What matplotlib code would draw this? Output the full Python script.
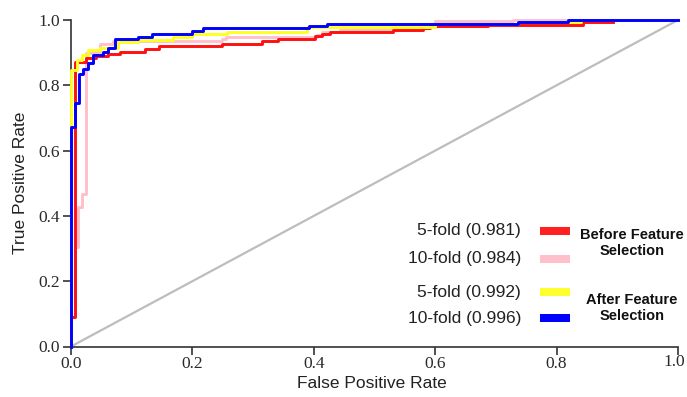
import matplotlib
matplotlib.use("Agg")
import matplotlib.pyplot as plt
from matplotlib.patches import Rectangle

# ROC step vertices (fpr, tpr) — each point is the top of a vertical rise
red_fpr = [0, 0, 0.0066, 0.025, 0.041, 0.061, 0.081, 0.122, 0.145, 0.248, 0.314,
           0.341, 0.402, 0.413, 0.427, 0.530, 0.580, 0.591, 0.687, 0.844, 0.893]
red_tpr = [0, 0.091, 0.872, 0.885, 0.891, 0.897, 0.903, 0.911, 0.919, 0.927, 0.935,
           0.943, 0.951, 0.957, 0.962, 0.968, 0.976, 0.981, 0.986, 0.993, 0.993]

pink_fpr = [0, 0, 0.0066, 0.012, 0.0176, 0.0247, 0.048, 0.070, 0.248, 0.256,
            0.405, 0.413, 0.443, 0.528, 0.600, 0.728, 1.0]
pink_tpr = [0, 0.091, 0.306, 0.428, 0.467, 0.899, 0.928, 0.937, 0.941, 0.948,
            0.955, 0.963, 0.968, 0.979, 0.997, 1.0, 1.0]

yellow_fpr = [0, 0, 0.0094, 0.018, 0.028, 0.047, 0.078, 0.110, 0.168, 0.200,
              0.257, 0.389, 0.600, 0.736, 0.840, 1.0]
yellow_tpr = [0, 0.847, 0.877, 0.893, 0.908, 0.915, 0.934, 0.939, 0.947, 0.956,
              0.962, 0.979, 0.989, 0.993, 1.0, 1.0]

blue_fpr = [0, 0, 0.0066, 0.0132, 0.0193, 0.0285, 0.0367, 0.0532, 0.0615, 0.0725,
            0.110, 0.133, 0.199, 0.2175, 0.392, 0.421, 0.736, 0.819, 1.0]
blue_tpr = [0, 0.673, 0.747, 0.835, 0.849, 0.869, 0.893, 0.901, 0.913, 0.941,
            0.949, 0.958, 0.966, 0.976, 0.982, 0.989, 0.995, 1.0, 1.0]

series_labels = ["5-fold (0.981)", "10-fold (0.984)", "5-fold (0.992)", "10-fold (0.996)"]
series_colors = ["#FF2020", "#FFC0CB", "#FFFF30", "#0000FF"]
line_colors = ["#FF1010", "#FFC0CB", "#FFFF20", "#0000FF"]
draw_order = [2, 1, 3, 4]
group_labels = ["Before Feature\nSelection", "After Feature\nSelection"]
ticks = [0.0, 0.2, 0.4, 0.6, 0.8, 1.0]

W, H = 687, 397
fig = plt.figure(figsize=(W / 100, H / 100), dpi=100)
ax = fig.add_axes([71 / W, 1 - 346.5 / H, 607 / W, 326.5 / H])

ax.plot([0, 1], [0, 1], color="#BDBDBD", lw=1.6, zorder=1, clip_on=False)
for fx, ty, c, z in zip([red_fpr, pink_fpr, yellow_fpr, blue_fpr],
                        [red_tpr, pink_tpr, yellow_tpr, blue_tpr], line_colors, draw_order):
    ax.plot(fx, ty, drawstyle="steps-post", color=c, lw=2.1, zorder=2 + z, clip_on=False)

ax.set_xlim(0, 1)
ax.set_ylim(0, 1)
ax.set_xticks(ticks)
ax.set_yticks(ticks)
xlabels = [f"{t:.1f}" for t in ticks]
ax.set_xticklabels(xlabels[:-1] + [""])
ax.set_yticklabels([f"{t:.1f}" for t in ticks])
for s in ["top", "right"]:
    ax.spines[s].set_visible(False)
for s in ["left", "bottom"]:
    ax.spines[s].set_color("#333333")
    ax.spines[s].set_linewidth(1.2)
ax.tick_params(direction="out", length=6, width=1.2, color="#333333",
               labelcolor="#2a2a2a", pad=2, labelsize=12.5)
ax.tick_params(axis="x", pad=1)
for lab in ax.get_xticklabels() + ax.get_yticklabels():
    lab.set_family("Liberation Serif")
# last x tick label, nudged slightly left so it stays inside the canvas
ax.annotate(xlabels[-1], xy=(ticks[-1], 0), xycoords=("data", "axes fraction"),
            xytext=(-2.5, -5.3), textcoords="offset points", ha="center", va="top",
            fontsize=12.5, family="Liberation Serif", color="#2a2a2a",
            annotation_clip=False)

fig.text(372 / W, 1 - 383 / H, "False Positive Rate", ha="center", va="center",
         fontsize=12.5, family="Liberation Sans", color="#222222")
fig.text(21 / W, 1 - 183 / H, "True Positive Rate", ha="center", va="center",
         rotation=90, fontsize=12.5, family="Liberation Sans", color="#222222")

# legend
ys = [230.7, 259.0, 292.2, 318.4]
for lbl, c, y in zip(series_labels, series_colors, ys):
    fig.text(521 / W, 1 - y / H, lbl, ha="right", va="center", fontsize=12.5,
             family="Liberation Sans", color="#222222")
    fig.patches.append(Rectangle((539.5 / W, 1 - (y + 4) / H), 30.5 / W, 8 / H,
                                 transform=fig.transFigure, facecolor=c,
                                 edgecolor="none"))
for g, y in zip(group_labels, [243, 308]):
    fig.text(632 / W, 1 - y / H, g, ha="center", va="center", fontsize=10.5,
             fontweight="bold", family="Liberation Sans", color="#111111",
             linespacing=1.25)

fig.savefig("out.png", dpi=100)
